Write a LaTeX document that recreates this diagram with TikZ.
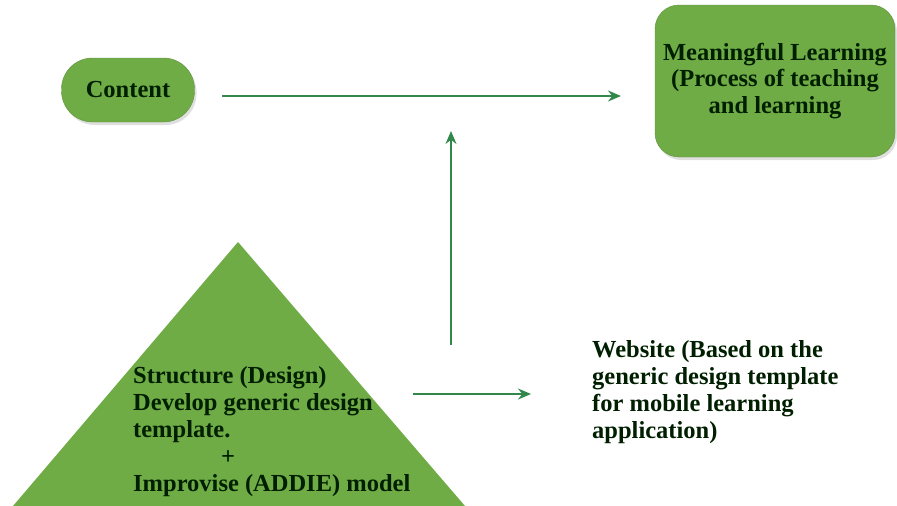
\documentclass[tikz,border=0pt]{standalone}
\usepackage{fontspec}
\setmainfont{Liberation Serif}
\usepackage{xcolor}
\usepackage{tikz}
\usetikzlibrary{arrows.meta}
\usetikzlibrary{shadows}
\definecolor{leaf}{RGB}{112,172,70}
\definecolor{stem}{RGB}{50,136,74}
\tikzset{
  style pill/.style={
    fill=leaf,
    draw=leaf!85!black,
    rounded corners=31pt,
    minimum width=133pt,
    minimum height=64pt,
    drop shadow={shadow xshift=2pt, shadow yshift=-3pt, opacity=0.25},
  },
  style box/.style={
    fill=leaf,
    draw=leaf!85!black,
    rounded corners=24pt,
    minimum width=240pt,
    minimum height=152pt,
    align=center,
    drop shadow={shadow xshift=2pt, shadow yshift=-3pt, opacity=0.25},
  },
  style plain/.style={
    align=left,
    inner sep=0pt,
    font=\bfseries\fontsize{24.5}{27}\selectfont,
  }
}

\begin{document}
\begin{tikzpicture}[x=1pt,y=-1pt]
        \useasboundingbox (0,0) rectangle (897,506);
        \fill [leaf] (13,506) -- (238,242) -- (465,506) -- cycle;
        \begin{scope}[every node/.style={font=\bfseries\fontsize{24.5}{26.5}\selectfont, text=black!88!green}]
            \node [style pill] (C) at (128,90) {Content};
            \node [style box]  (M) at (775,81) {Meaningful Learning\\(Process of teaching\\and learning};
            \node [style plain, anchor=north west] (S) at (133,366) {Structure (Design)\\Develop generic design\\template.\\\hspace*{88pt}+\\Improvise (ADDIE) model};
            \node [style plain, anchor=north west] (W) at (592,340) {Website (Based on the\\generic design template\\for mobile learning\\application)};
        \end{scope}
        \coordinate (c1) at (222,96);
        \coordinate (c2) at (621,96);
        \coordinate (v1) at (451,345);
        \coordinate (v2) at (451,131);
        \coordinate (h1) at (413,394);
        \coordinate (h2) at (531,394);
        \begin{scope}[>={Stealth[length=13pt,width=11pt]}, every edge/.style={draw=stem,line width=1.4pt}]
            \path [->] (c1) edge (c2);
            \path [->] (v1) edge (v2);
            \path [->] (h1) edge (h2);
        \end{scope}
    \end{tikzpicture}
\end{document}
